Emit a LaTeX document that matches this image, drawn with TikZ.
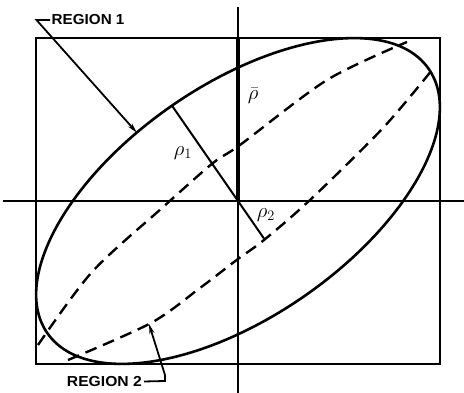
\documentclass[tikz,border=0pt]{standalone}
\usepackage{fontspec}
\setmainfont{Liberation Sans}
\usetikzlibrary{arrows.meta,calc}
\begin{document}
\begin{tikzpicture}[x=1pt,y=1pt,
  frame/.style={line width=2.6pt},
  axisline/.style={line width=1.8pt},
  curve/.style={line width=2.6pt},
  dashcurve/.style={line width=2.4pt, dash pattern=on 12pt off 7pt},
  leader/.style={line width=1.8pt},
  tip/.style={-{Stealth[length=10pt,width=5pt]}},
  lab/.style={font=\fontsize{14.5}{16}\selectfont\bfseries, inner sep=0pt},
  rholab/.style={font=\fontsize{21}{24}\selectfont, inner sep=0pt}]
\useasboundingbox (0,0) rectangle (464,393);
\coordinate (O) at (238,192);
\coordinate (BL) at (36,29);
\coordinate (TR) at (440,355);
\coordinate (vt) at (238,386);
\coordinate (vb) at (238,0);
\coordinate (hl) at (3,192);
\coordinate (hr) at (464,192);
\coordinate (topax) at (238,355);
% frame and axes
\draw[frame] (BL) rectangle (TR);
\draw[axisline] (vb) -- (vt);
\draw[axisline] (hl) -- (hr);
\draw[line width=4.5pt] (O) -- (topax);
% ellipse
\begin{scope}[shift={(O)}, rotate=34.7]
  \draw[curve] (0,0) ellipse [x radius=232pt, y radius=116pt];
  \coordinate (r1) at (0,116);
  \coordinate (r2) at (0,-47);
  \coordinate (t1) at ({232*cos(101)},{116*sin(101)});
\end{scope}
\draw[line width=2pt] (O) -- (r1);
\draw[line width=2pt] (O) -- (r2);
% dashed curves
\draw[dashcurve] plot[smooth] coordinates {(38,48) (92,121) (162,185) (213,230) (240,248) (327,313) (407,351)};
\draw[dashcurve] plot[smooth] coordinates {(68,33) (151,70) (200,105) (238,134) (264,153) (310,193) (383,265) (432,323)};
% labels
\node[lab, anchor=west] (reg1) at (51.5,373) {\scalebox{1.05}[1]{REGION 1}};
\coordinate (k1) at (36.5,373);
\draw[leader, tip] ([xshift=-1.5pt]reg1.west) -- (k1) -- (t1);
\node[lab, anchor=east] (reg2) at (142,11.5) {\scalebox{1.08}[1]{REGION 2}};
\coordinate (k2a) at (165,12);
\coordinate (k2b) at (165,18);
\coordinate (tip2) at (149,69);
\draw[leader, tip] ([xshift=2pt]reg2.east) -- (k2a) -- (k2b) -- (tip2);
\node[rholab] (rho1) at (183,240) {$\rho_1$};
\node[rholab] (rhob) at (253,297) {$\bar{\rho}$};
\node[rholab] (rho2) at (266,178) {$\rho_2$};
\end{tikzpicture}
\end{document}
